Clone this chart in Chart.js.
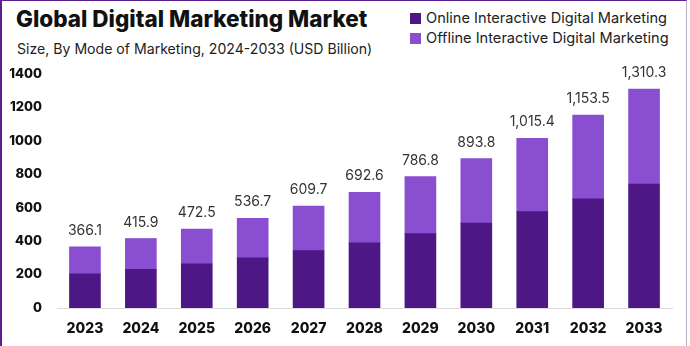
<!DOCTYPE html>
<html><head><meta charset="utf-8">
<script src="https://cdn.jsdelivr.net/npm/chart.js@4"></script>
<style>
html,body{margin:0;padding:0;background:#fff;}
#wrap{position:relative;width:690px;height:346px;overflow:hidden;}
#frame{position:absolute;left:0;top:0;width:687px;height:346px;border-left:2px solid #5b1f8f;border-top:1px solid #5b1f8f;border-right:1px solid #b9aec4;box-sizing:border-box;}
#title{position:absolute;left:16px;top:5px;font-family:Inter,sans-serif;font-weight:800;font-size:22.5px;color:#111;white-space:nowrap;}
#subtitle{position:absolute;left:17px;top:40px;font-family:Inter,sans-serif;font-weight:400;font-size:14.1px;color:#222;white-space:nowrap;}
#legend{position:absolute;left:410px;top:8px;font-family:Inter,sans-serif;font-size:14.6px;color:#222;}
#legend div{display:flex;align-items:center;height:20px;white-space:nowrap;}
#legend span.sw{display:inline-block;width:11px;height:11px;margin-right:5px;}
canvas{position:absolute;left:0;top:0;}
</style></head>
<body>
<div id="wrap">
<div id="frame"></div>
<div id="title">Global Digital Marketing Market</div>
<div id="subtitle">Size, By Mode of Marketing, 2024-2033 (USD Billion)</div>
<div id="legend"></div>
<canvas id="c" width="690" height="346"></canvas>
</div>
<script>
const years = ["2023","2024","2025","2026","2027","2028","2029","2030","2031","2032","2033"];
const online = [204, 232, 264, 300, 343, 390, 445, 508, 577, 653, 742];
const offline = [162.1, 183.9, 208.5, 236.7, 266.7, 302.6, 341.8, 385.8, 438.4, 500.5, 568.3];
const totals = [366.1, 415.9, 472.5, 536.7, 609.7, 692.6, 786.8, 893.8, 1015.4, 1153.5, 1310.3];
const yTicks = [0, 200, 400, 600, 800, 1000, 1200, 1400];
const seriesNames = ["Online Interactive Digital Marketing", "Offline Interactive Digital Marketing"];
const colors = ["#4e1786", "#8a4fd0"];

const lg = document.getElementById('legend');
seriesNames.forEach((n,i)=>{
  const d=document.createElement('div');
  d.innerHTML='<span class="sw" style="background:'+colors[i]+'"></span>'+n;
  lg.appendChild(d);
});

const totalLabels = {
  id:'totalLabels',
  afterDatasetsDraw(chart){
    const ctx=chart.ctx;
    const meta=chart.getDatasetMeta(1);
    ctx.save();
    ctx.font='400 14px Inter, sans-serif';
    ctx.fillStyle='#333';
    ctx.textAlign='center';
    ctx.textBaseline='bottom';
    meta.data.forEach((el,i)=>{
      const t=totals[i].toLocaleString('en-US',{minimumFractionDigits:1,maximumFractionDigits:1});
      ctx.fillText(t, el.x, el.y-9);
    });
    ctx.restore();
  }
};

new Chart(document.getElementById('c'),{
  type:'bar',
  data:{labels:years,datasets:[
    {label:seriesNames[0],data:online,backgroundColor:colors[0],barThickness:31},
    {label:seriesNames[1],data:offline,backgroundColor:colors[1],barThickness:31}
  ]},
  options:{
    responsive:false,animation:false,
    layout:{padding:{left:0,right:18,top:74,bottom:0}},
    plugins:{legend:{display:false},tooltip:{enabled:false},title:{display:false}},
    scales:{
      x:{stacked:true,grid:{display:false,drawTicks:false},border:{display:true,color:'#dcdcdc',width:1},
         ticks:{padding:12,color:'#111',font:{family:'Inter, sans-serif',weight:'800',size:14}},
         afterFit(s){s.height=38;}},
      y:{stacked:true,min:0,max:1400,grid:{display:false,drawTicks:false},border:{display:false},
         afterBuildTicks(s){s.ticks=yTicks.map(v=>({value:v}));},
         ticks:{padding:15,color:'#111',font:{family:'Inter, sans-serif',weight:'800',size:13},
                callback:(v)=>String(v)},
         afterFit(s){s.width=57;}}
    }
  },
  plugins:[totalLabels]
});
</script>
</body></html>
